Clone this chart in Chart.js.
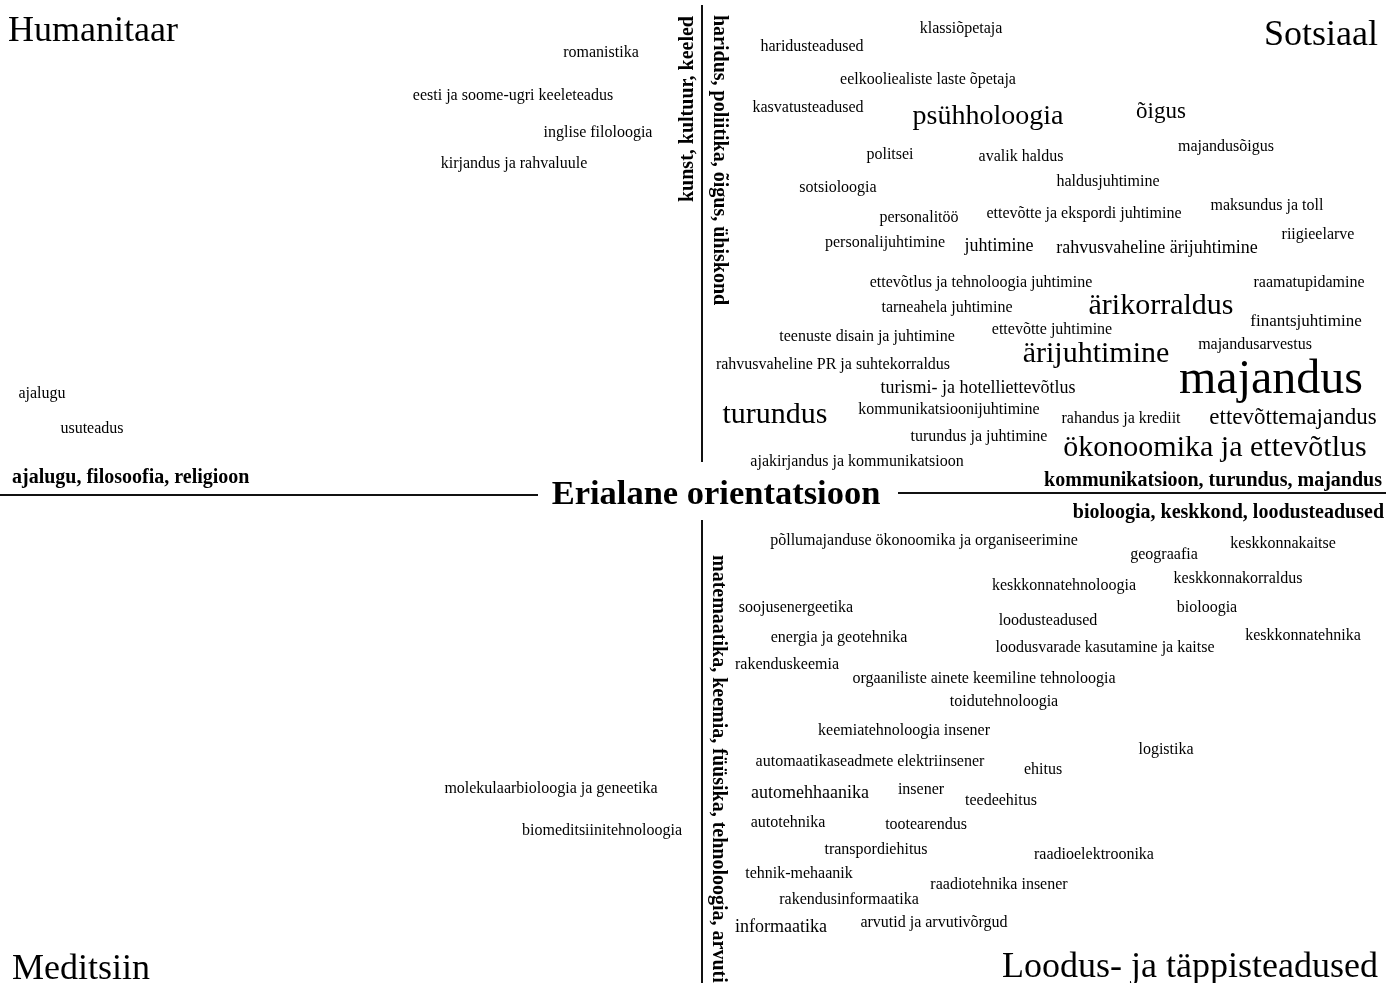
<!DOCTYPE html>
<html lang="et">
<head>
<meta charset="utf-8">
<title>Erialane orientatsioon</title>
<script src="https://cdn.jsdelivr.net/npm/chart.js@4/dist/chart.umd.min.js"></script>
<style>
  html, body { margin: 0; padding: 0; background: #fff; }
  #wrap { width: 1386px; height: 983px; position: relative; }
</style>
</head>
<body>
<div id="wrap"><canvas id="chart"></canvas></div>
<script>
"use strict";

// ── Data: words (map position + weight = font size) ──────────────────────────
const wordText = [
  // humanitaar
  "romanistika", "eesti ja soome-ugri keeleteadus", "inglise filoloogia", "kirjandus ja rahvaluule",
  "ajalugu", "usuteadus",
  // sotsiaal
  "klassiõpetaja", "haridusteadused", "eelkooliealiste laste õpetaja", "kasvatusteadused",
  "psühholoogia", "õigus", "majandusõigus", "politsei", "avalik haldus", "haldusjuhtimine",
  "sotsioloogia", "personalitöö", "ettevõtte ja ekspordi juhtimine", "maksundus ja toll",
  "riigieelarve", "personalijuhtimine", "juhtimine", "rahvusvaheline ärijuhtimine",
  "ettevõtlus ja tehnoloogia juhtimine", "raamatupidamine", "tarneahela juhtimine", "ärikorraldus",
  "finantsjuhtimine", "teenuste disain ja juhtimine", "ettevõtte juhtimine", "ärijuhtimine",
  "majandusarvestus", "rahvusvaheline PR ja suhtekorraldus", "majandus", "turismi- ja hotelliettevõtlus",
  "turundus", "kommunikatsioonijuhtimine", "rahandus ja krediit", "ettevõttemajandus",
  "turundus ja juhtimine", "ökonoomika ja ettevõtlus", "ajakirjandus ja kommunikatsioon",
  // loodus- ja täppisteadused
  "põllumajanduse ökonoomika ja organiseerimine", "geograafia", "keskkonnakaitse", "keskkonnatehnoloogia",
  "keskkonnakorraldus", "soojusenergeetika", "loodusteadused", "bioloogia", "energia ja geotehnika",
  "keskkonnatehnika", "loodusvarade kasutamine ja kaitse", "rakenduskeemia",
  "orgaaniliste ainete keemiline tehnoloogia", "toidutehnoloogia", "keemiatehnoloogia insener",
  "logistika", "automaatikaseadmete elektriinsener", "ehitus", "automehhaanika", "insener",
  "teedeehitus", "autotehnika", "tootearendus", "transpordiehitus", "raadioelektroonika",
  "tehnik-mehaanik", "raadiotehnika insener", "rakendusinformaatika", "informaatika",
  "arvutid ja arvutivõrgud",
  // meditsiin
  "molekulaarbioloogia ja geneetika", "biomeditsiinitehnoloogia",
];

const wordX = [
  601, 513, 598, 514, 42, 92,
  961, 812, 928, 808, 988, 1161, 1226, 890, 1021, 1108,
  838, 919, 1084, 1267, 1318, 885, 999, 1157, 981, 1309, 947, 1161,
  1306, 867, 1052, 1096, 1255, 833, 1271, 978, 775, 949, 1121, 1293,
  979, 1215, 857,
  924, 1164, 1283, 1064, 1238, 796, 1048, 1207, 839, 1303, 1105, 787,
  984, 1004, 904, 1166, 870, 1043, 810, 921, 1001, 788, 926, 876, 1094,
  799, 999, 849, 781, 934,
  551, 602,
];

const wordY = [
  52, 95, 132, 163, 393, 428,
  28, 46, 79, 107, 115, 110, 146, 154, 156, 181,
  187, 217, 213, 205, 234, 242, 245, 247, 282, 282, 307, 304,
  320, 336, 329, 352, 344, 364, 377, 387, 413, 409, 418, 416,
  436, 446, 461,
  540, 554, 543, 585, 578, 607, 620, 607, 637, 635, 647, 664,
  678, 701, 730, 749, 761, 769, 792, 789, 800, 822, 824, 849, 854,
  873, 884, 899, 926, 922,
  788, 830,
];

const wordWeight = [
  16, 16, 16, 16, 16, 16,
  16, 16, 16, 16, 28, 23, 16, 16, 16, 16,
  16, 16, 16, 16, 16, 16, 18, 18, 16, 16, 16, 30,
  17, 16, 16, 30, 16, 16, 48, 18, 30, 16, 16, 23,
  16, 30, 16,
  16, 16, 16, 16, 16, 16, 16, 16, 16, 16, 16, 16,
  16, 16, 16, 16, 16, 16, 18, 16, 16, 16, 16, 16, 16,
  16, 16, 16, 18, 16,
  16, 16,
];

// ── Data: headings (field groups, axis title, corners) ───────────────────────
const headText  = [
  "Humanitaar", "Sotsiaal", "Meditsiin", "Loodus- ja täppisteadused",
  "Erialane orientatsioon",
  "ajalugu, filosoofia, religioon", "kommunikatsioon, turundus, majandus",
  "bioloogia, keskkond, loodusteadused",
  "kunst, kultuur, keeled", "haridus, poliitika, õigus, ühiskond",
  "matemaatika, keemia, füüsika, tehnoloogia, arvuti",
];
const headX     = [8, 1378, 12, 1378, 716, 12, 1382, 1384, 688, 719, 718];
const headY     = [29, 33, 967, 965, 493, 476, 479, 511, 202, 15, 555];
const headSize  = [36, 36, 36, 36, 34.5, 20, 20, 20, 20, 20, 20];
const headBold  = [false, false, false, false, true, true, true, true, true, true, true];
const headAlign = ["left", "right", "left", "right", "center", "left", "right", "right", "left", "left", "left"];
const headRot   = [0, 0, 0, 0, 0, 0, 0, 0, -90, 90, 90];

// ── Data: axis segments ──────────────────────────────────────────────────────
const axisSegments = [
  [[0, 495], [538, 495]],
  [[898, 493], [1386, 493]],
  [[702, 5], [702, 462]],
  [[702, 520], [702, 983]],
];

// ── Text plugin ──────────────────────────────────────────────────────────────
const FONT = "'Liberation Serif', 'Times New Roman', serif";

const textPlugin = {
  id: "textMarks",
  afterDatasetsDraw(chart) {
    const ctx = chart.ctx;
    chart.data.datasets.forEach((ds, i) => {
      if (!ds.texts) return;
      const meta = chart.getDatasetMeta(i);
      meta.data.forEach((pt, j) => {
        const t = ds.texts[j];
        ctx.save();
        ctx.translate(pt.x, pt.y);
        if (t.rot) ctx.rotate(t.rot * Math.PI / 180);
        ctx.font = `${t.bold ? "bold " : ""}${t.size}px ${FONT}`;
        ctx.fillStyle = "#000";
        ctx.textAlign = t.align || "center";
        ctx.textBaseline = "middle";
        // nudge horizontal text so the lowercase body sits on the anchor
        ctx.fillText(t.text, 0, t.rot ? 0 : t.size * 0.07);
        ctx.restore();
      });
    });
  },
};

// ── Datasets ─────────────────────────────────────────────────────────────────
const lineSets = axisSegments.map(seg => ({
  type: "line",
  data: seg.map(([x, y]) => ({ x, y })),
  borderColor: "#111",
  borderWidth: 2,
  pointRadius: 0,
  fill: false,
}));

const wordSet = {
  type: "scatter",
  data: wordText.map((_, i) => ({ x: wordX[i], y: wordY[i] })),
  pointRadius: 0,
  texts: wordText.map((text, i) => ({ text, size: wordWeight[i] })),
};

const headSet = {
  type: "scatter",
  data: headText.map((_, i) => ({ x: headX[i], y: headY[i] })),
  pointRadius: 0,
  texts: headText.map((text, i) => ({
    text, size: headSize[i], bold: headBold[i], align: headAlign[i], rot: headRot[i],
  })),
};

new Chart(document.getElementById("chart"), {
  type: "scatter",
  data: { datasets: [...lineSets, wordSet, headSet] },
  options: {
    responsive: true,
    maintainAspectRatio: false,
    animation: false,
    layout: { padding: 0 },
    plugins: { legend: { display: false }, tooltip: { enabled: false } },
    scales: {
      x: { type: "linear", min: 0, max: 1386, display: false },
      y: { type: "linear", min: 0, max: 983, reverse: true, display: false },
    },
  },
  plugins: [textPlugin],
});
</script>
</body>
</html>
